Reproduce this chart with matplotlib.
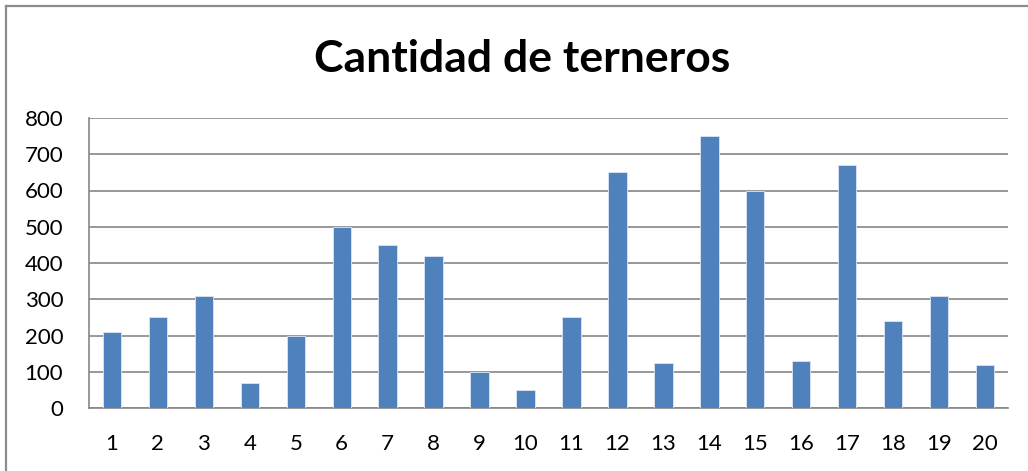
import matplotlib
matplotlib.use("Agg")
import matplotlib.pyplot as plt
from matplotlib.lines import Line2D

categories = [str(i) for i in range(1, 21)]
terneros = [210, 250, 310, 70, 200, 500, 450, 420, 100, 50,
            250, 650, 125, 750, 600, 130, 670, 240, 310, 120]
y_ticks = [0, 100, 200, 300, 400, 500, 600, 700, 800]
title = "Cantidad de terneros"

plt.rcParams['font.family'] = ['Lato', 'DejaVu Sans']

fig = plt.figure(figsize=(10.28, 4.71), dpi=100)
ax = fig.add_axes([89/1028, 1 - 408/471, (1008 - 89)/1028, (408 - 118)/471])

x = list(range(len(categories)))
ax.bar(x, terneros, width=0.4, color='#4F81BD', edgecolor='#DCE6F2', linewidth=0.6, zorder=3)
ax.set_xlim(-0.5, len(categories) - 0.5)
ax.set_ylim(0, 800)
ax.set_yticks(y_ticks)
ax.set_xticks(x)
ax.set_xticklabels(categories)
ax.tick_params(axis='both', length=0, labelsize=16, colors='black')
ax.tick_params(axis='x', pad=19)
ax.tick_params(axis='y', pad=18.5)
ax.grid(axis='y', color='#868686', linewidth=1.2, zorder=0)
for s in ['top', 'right']:
    ax.spines[s].set_visible(False)
for s in ['left', 'bottom']:
    ax.spines[s].set_color('#868686')
    ax.spines[s].set_linewidth(1.2)

fig.text(522/1028, 1 - 59/471, title, ha='center', va='center',
         fontsize=32, fontweight='bold')

# outer chart border (top and left visible)
fig.add_artist(Line2D([6/1028, 1.0], [1 - 6/471, 1 - 6/471], transform=fig.transFigure,
                      color='#8C8C8C', linewidth=1.6))
fig.add_artist(Line2D([6/1028, 6/1028], [0, 1 - 6/471], transform=fig.transFigure,
                      color='#8C8C8C', linewidth=1.6))

fig.savefig("out.png", dpi=100)
